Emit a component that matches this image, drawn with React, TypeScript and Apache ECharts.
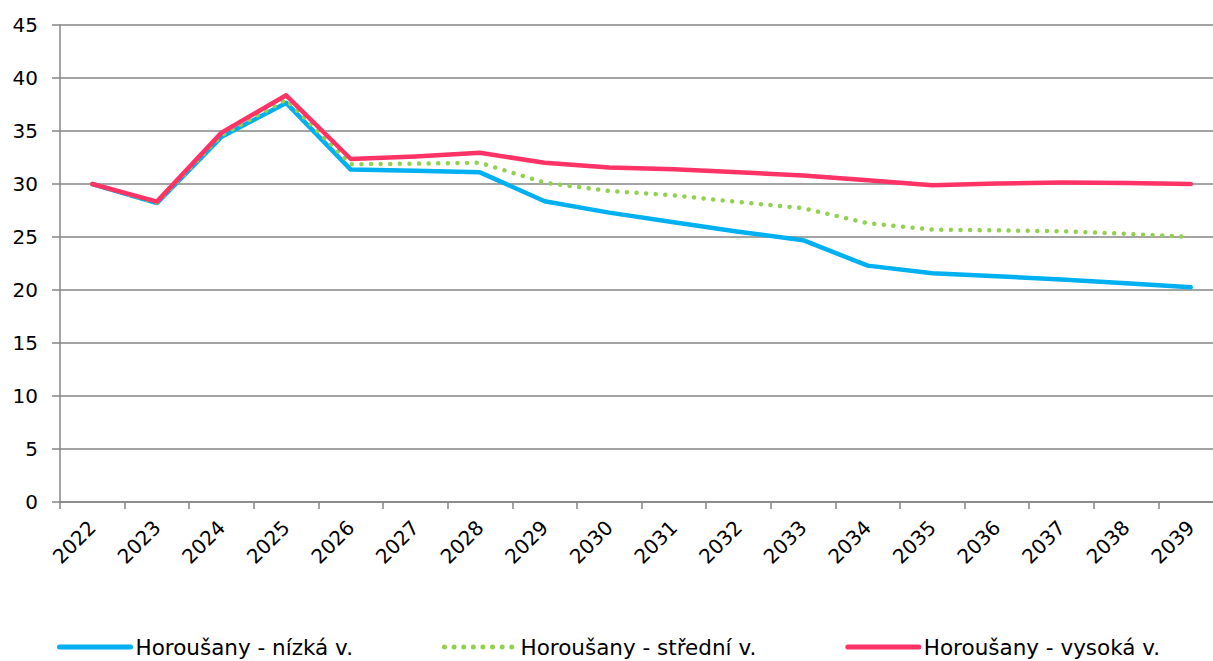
import React, { useEffect, useRef } from "react";
import * as echarts from "echarts";

const years = ["2022","2023","2024","2025","2026","2027","2028","2029","2030","2031","2032","2033","2034","2035","2036","2037","2038","2039"];
const lowValues = [30.0, 28.2, 34.45, 37.65, 31.36, 31.25, 31.1, 28.37, 27.3, 26.4, 25.5, 24.7, 22.3, 21.57, 21.3, 21.0, 20.63, 20.25];
const midValues = [30.0, 28.25, 34.6, 37.96, 31.86, 31.92, 32.0, 30.13, 29.34, 28.93, 28.3, 27.72, 26.3, 25.7, 25.63, 25.54, 25.3, 25.0];
const highValues = [30.0, 28.34, 34.85, 38.37, 32.36, 32.6, 32.95, 32.0, 31.55, 31.4, 31.1, 30.8, 30.35, 29.88, 30.04, 30.13, 30.1, 30.0];
const seriesNames = ["Horoušany - nízká v.", "Horoušany - střední v.", "Horoušany - vysoká v."];

const FONT = "DejaVu Sans, Verdana, sans-serif";

export default function App() {
  const ref = useRef<HTMLDivElement>(null);
  useEffect(() => {
    document.body.style.margin = "0";
    const chart = echarts.init(ref.current!, null, { renderer: "svg" });
    chart.setOption({
      animation: false,
      backgroundColor: "#ffffff",
      textStyle: { fontFamily: FONT },
      grid: { left: 60, top: 25, right: 0, bottom: 159, containLabel: false },
      legend: {
        left: 57,
        top: 636,
        padding: 0,
        itemWidth: 71,
        itemHeight: 14,
        itemGap: 89,
        itemStyle: { opacity: 0, color: "rgba(0,0,0,0)", borderWidth: 0 },
        lineStyle: { width: 5 },
        textStyle: { fontFamily: FONT, fontSize: 21.5, color: "#000" },
        data: seriesNames,
      },
      xAxis: {
        type: "category",
        data: years,
        boundaryGap: true,
        axisLine: { lineStyle: { color: "#868686", width: 1.5 } },
        axisTick: { show: true, length: 7, lineStyle: { color: "#868686", width: 1.5 } },
        axisLabel: {
          rotate: 45,
          margin: 22,
          fontSize: 20,
          color: "#000",
          fontFamily: FONT,
          interval: 0,
        },
        splitLine: { show: false },
      },
      yAxis: {
        type: "value",
        min: 0,
        max: 45,
        interval: 5,
        axisLine: { show: true, lineStyle: { color: "#868686", width: 1.5 } },
        axisTick: { show: true, length: 8, lineStyle: { color: "#868686", width: 1.5 } },
        axisLabel: { fontSize: 20, color: "#000", fontFamily: FONT, margin: 22 },
        splitLine: { show: true, lineStyle: { color: "#868686", width: 1.5 } },
      },
      series: [
        {
          name: seriesNames[0],
          type: "line",
          data: lowValues,
          symbol: "none",
          showSymbol: false,
          color: "#00B0F0",
          lineStyle: { color: "#00B0F0", width: 4.5, cap: "round", join: "round" },
        },
        {
          name: seriesNames[1],
          type: "line",
          data: midValues,
          symbol: "none",
          showSymbol: false,
          color: "#92D050",
          lineStyle: { color: "#92D050", width: 4.5, type: [0.01, 9.6], cap: "round" },
        },
        {
          name: seriesNames[2],
          type: "line",
          data: highValues,
          symbol: "none",
          showSymbol: false,
          color: "#FF3366",
          lineStyle: { color: "#FF3366", width: 4.5, cap: "round", join: "round" },
        },
      ],
    });
    return () => chart.dispose();
  }, []);
  return (
    <div style={{ width: 1213, height: 661, overflow: "hidden", position: "relative" }}>
      <div ref={ref} style={{ width: 1223, height: 661 }} />
    </div>
  );
}
